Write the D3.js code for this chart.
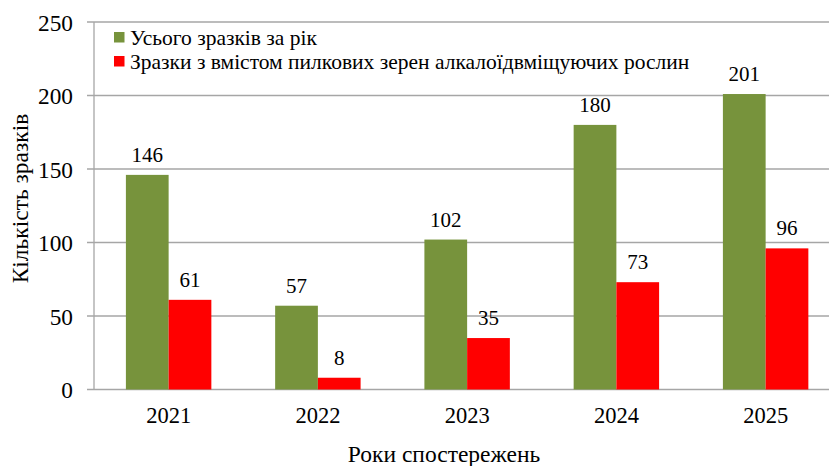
<!DOCTYPE html>
<html>
<head>
<meta charset="utf-8">
<script src="https://cdn.jsdelivr.net/npm/d3@7"></script>
<style>
  body { margin: 0; background: #fff; }
  svg { display: block; font-family: "Liberation Serif", "Times New Roman", serif; }
</style>
</head>
<body>
<svg id="chart"></svg>
<script>
const years = ["2021", "2022", "2023", "2024", "2025"];
const seriesNames = ["Усього зразків за рік", "Зразки з вмістом пилкових зерен алкалоїдвміщуючих рослин"];
const totalSamples = [146, 57, 102, 180, 201];
const pollenSamples = [61, 8, 35, 73, 96];
const seriesColors = ["#77933C", "#FF0000"];
const yTicks = [0, 50, 100, 150, 200, 250];

const W = 829, H = 466;
const margin = { top: 22, left: 94, bottom: 76.5 };
const plotH = H - margin.top - margin.bottom;
const step = 149.25;

const svg = d3.select("#chart").attr("width", W).attr("height", H);

const data = years.map((y, i) => ({ year: y, values: [totalSamples[i], pollenSamples[i]] }));

const x0 = d3.scaleBand().domain(years).range([margin.left, margin.left + step * years.length]);
const x1 = d3.scaleBand().domain([0, 1]).range([31.9, step - 31.9]);
const y = d3.scaleLinear().domain([0, 250]).range([margin.top + plotH, margin.top]);

// gridlines
svg.append("g")
    .selectAll("line")
    .data(yTicks)
    .enter().append("line")
    .attr("x1", margin.left - 7)
    .attr("x2", W)
    .attr("y1", d => y(d))
    .attr("y2", d => y(d))
    .attr("stroke", "#a6a6a6")
    .attr("stroke-width", 1.3);

// bars
const groups = svg.selectAll(".grp")
    .data(data)
    .enter().append("g")
    .attr("class", "grp")
    .attr("transform", d => `translate(${x0(d.year)},0)`);

groups.selectAll("rect")
    .data(d => d.values.map((v, k) => ({ k, v })))
    .enter().append("rect")
    .attr("x", d => x1(d.k))
    .attr("y", d => y(d.v))
    .attr("width", x1.bandwidth())
    .attr("height", d => y(0) - y(d.v))
    .attr("fill", d => seriesColors[d.k]);

groups.selectAll("text")
    .data(d => d.values.map((v, k) => ({ k, v })))
    .enter().append("text")
    .attr("x", d => x1(d.k) + x1.bandwidth() / 2)
    .attr("y", d => y(d.v) - 13)
    .attr("text-anchor", "middle")
    .style("font-size", "21px")
    .text(d => d.v);

// axis line
svg.append("line")
    .attr("x1", margin.left).attr("x2", margin.left)
    .attr("y1", y(250)).attr("y2", y(0))
    .attr("stroke", "#a6a6a6").attr("stroke-width", 1.3);

// y tick labels
svg.append("g")
    .selectAll("text")
    .data(yTicks)
    .enter().append("text")
    .attr("x", 73)
    .attr("y", d => y(d) + 8.5)
    .attr("text-anchor", "end")
    .style("font-size", "23.3px")
    .text(d => d);

// x tick labels
svg.append("g")
    .selectAll("text")
    .data(years)
    .enter().append("text")
    .attr("x", d => x0(d) + x0.bandwidth() / 2)
    .attr("y", 423)
    .attr("text-anchor", "middle")
    .style("font-size", "22.5px")
    .text(d => d);

// axis titles
svg.append("text")
    .attr("x", 444)
    .attr("y", 462)
    .attr("text-anchor", "middle")
    .style("font-size", "23.5px")
    .text("Роки спостережень");

svg.append("text")
    .attr("transform", "translate(28,198.5) rotate(-90)")
    .attr("text-anchor", "middle")
    .style("font-size", "23.5px")
    .text("Кількість зразків");

// legend
const legend = svg.append("g").attr("transform", "translate(114,32)");
seriesNames.forEach((name, i) => {
    legend.append("rect")
        .attr("x", 0).attr("y", i * 24)
        .attr("width", 10.5).attr("height", 10.5)
        .attr("fill", seriesColors[i]);
    legend.append("text")
        .attr("x", 16).attr("y", i * 24 + 12.5)
        .style("font-size", "21.5px")
        .text(name);
});
</script>
</body>
</html>
